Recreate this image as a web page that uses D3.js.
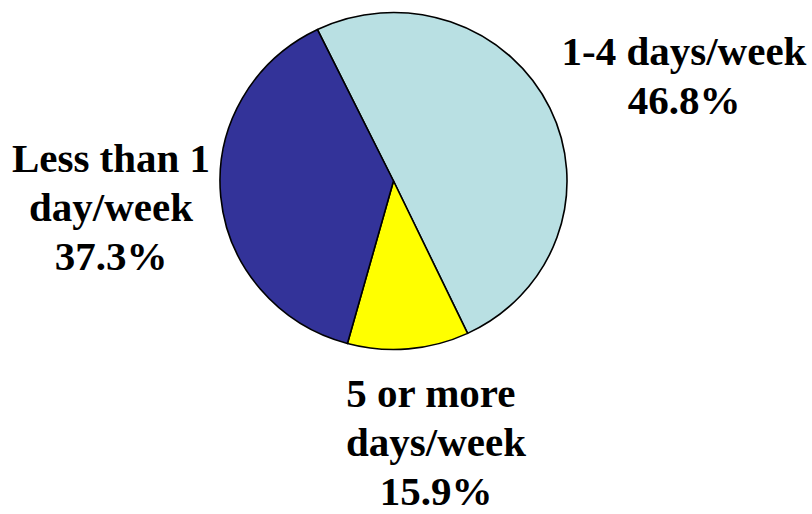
<!DOCTYPE html>
<html>
<head>
<meta charset="utf-8">
<script src="https://d3js.org/d3.v7.min.js"></script>
<style>
  html, body { margin: 0; padding: 0; background: #fff; }
  svg { display: block; }
</style>
</head>
<body>
<svg width="812" height="514"></svg>
<script>
// slice shares as drawn in the picture (clockwise from the top boundary)
const categories = ['1-4 days/week', '5 or more days/week', 'Less than 1 day/week'];
const sliceShares = [50.2, 11.3, 38.5];
// percentages printed on the labels
const labelPercents = ['46.8%', '15.9%', '37.3%'];
// label lines (category text broken as in the picture)
const labelLines = [
  ['1-4 days/week'],
  ['5 or more ', 'days/week'],
  ['Less than 1', 'day/week']
];

const colors = ['#b9e0e3', '#ffff00', '#333399'];

const CX = 393.5, CY = 181;
const RX = 173.5, RY = 168.5;
const START = -26 * Math.PI / 180;
const LINE_H = 49;
const FONT = "'Liberation Serif', 'Times New Roman', Times, serif";

// where each label block sits: centre x, first baseline y
const labelPos = [
  { x: 684, y: 65 },
  { x: 436, y: 407 },
  { x: 111, y: 172 }
];

const svg = d3.select('svg');

const pie = d3.pie()
  .sort(null)
  .value(d => d)
  .startAngle(START)
  .endAngle(START + 2 * Math.PI);

const arc = d3.arc().innerRadius(0).outerRadius(RX);

const g = svg.append('g')
  .attr('transform', `translate(${CX},${CY}) scale(1,${RY / RX})`);

g.selectAll('path.slice')
  .data(pie(sliceShares))
  .enter()
  .append('path')
  .attr('class', 'slice')
  .attr('d', arc)
  .attr('fill', (d, i) => colors[i])
  .attr('stroke', '#000')
  .attr('stroke-width', 1.6)
  .attr('stroke-linejoin', 'round');

const labels = svg.selectAll('text.lbl')
  .data(categories)
  .enter()
  .append('text')
  .attr('class', 'lbl')
  .attr('font-family', FONT)
  .attr('font-weight', 'bold')
  .attr('font-size', 41)
  .attr('fill', '#000')
  .attr('text-anchor', 'middle');

labels.each(function(d, i) {
  const t = d3.select(this);
  const lines = labelLines[i].concat([labelPercents[i]]);
  lines.forEach((s, j) => {
    t.append('tspan')
      .attr('x', labelPos[i].x)
      .attr('y', labelPos[i].y + j * LINE_H)
      .style('white-space', 'pre')
      .text(s);
  });
});
</script>
</body>
</html>
